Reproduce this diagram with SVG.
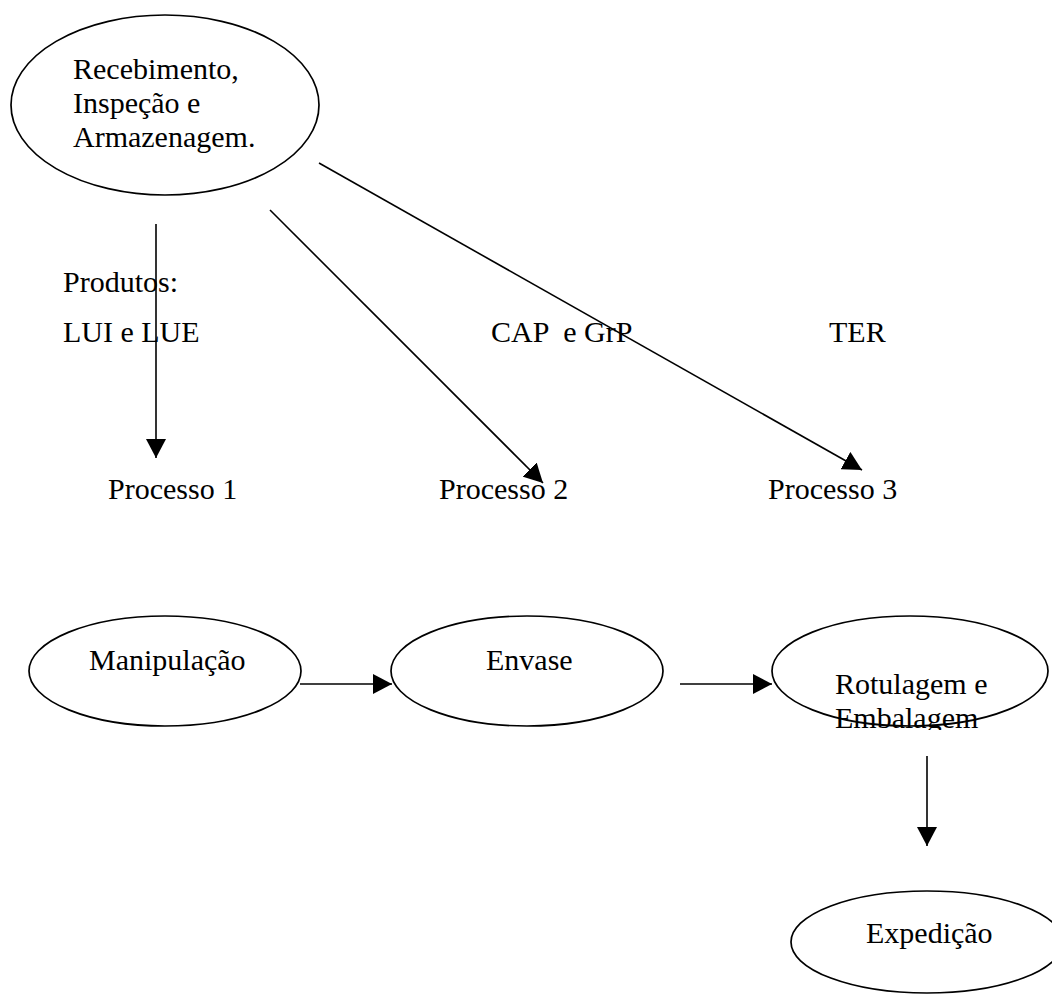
<svg xmlns="http://www.w3.org/2000/svg" width="1052" height="996" viewBox="0 0 1052 996">
  <style>
    .shape { fill: #ffffff; stroke: #000000; stroke-width: 1.7; }
    .label { font-family: "Liberation Serif", "Times New Roman", serif; font-size: 30px; fill: #000000; white-space: pre; }
    .link { stroke: #000000; stroke-width: 1.6; fill: none; marker-end: url(#head); }
  </style>
  <defs>
    <marker id="head" markerUnits="userSpaceOnUse" markerWidth="19" markerHeight="20" refX="19" refY="10" orient="auto">
      <path d="M0,0 L19,10 L0,20 z" fill="#000000"/>
    </marker>
    <clipPath id="clip-rotulagem">
      <rect x="772" y="616" width="280" height="114"/>
    </clipPath>
  </defs>

  <rect width="1052" height="996" fill="#ffffff"/>

  <g id="node-recebimento">
    <ellipse class="shape" cx="165" cy="105" rx="154" ry="90"/>
    <text class="label" x="73" y="79">Recebimento,</text>
    <text class="label" x="73" y="113">Inspeção e</text>
    <text class="label" x="73" y="147">Armazenagem.</text>
  </g>

  <g id="labels-produtos">
    <text class="label" x="63" y="292">Produtos:</text>
    <text class="label" x="63" y="342">LUI e LUE</text>
    <text class="label" x="491" y="342">CAP  e GrP</text>
    <text class="label" x="829" y="342">TER</text>
  </g>

  <g id="node-processo1">
    <text class="label" x="108" y="499">Processo 1</text>
  </g>
  <g id="node-processo2">
    <text class="label" x="439" y="499">Processo 2</text>
  </g>
  <g id="node-processo3">
    <text class="label" x="768" y="499">Processo 3</text>
  </g>

  <g id="node-manipulacao">
    <ellipse class="shape" cx="165" cy="671" rx="136" ry="55"/>
    <text class="label" x="89" y="670">Manipulação</text>
  </g>

  <g id="node-envase">
    <ellipse class="shape" cx="527" cy="671" rx="136" ry="55"/>
    <text class="label" x="486" y="670">Envase</text>
  </g>

  <g id="node-rotulagem">
    <ellipse class="shape" cx="910" cy="671" rx="138" ry="55"/>
    <g clip-path="url(#clip-rotulagem)">
      <text class="label" x="835" y="694">Rotulagem e</text>
      <text class="label" x="835" y="728">Embalagem</text>
    </g>
  </g>

  <g id="node-expedicao">
    <ellipse class="shape" cx="927" cy="942" rx="136" ry="51"/>
    <text class="label" x="866" y="943">Expedição</text>
  </g>

  <g id="connectors">
    <line class="link" x1="156" y1="224" x2="156" y2="458"/>
    <line class="link" x1="270" y1="210" x2="543" y2="483"/>
    <line class="link" x1="319" y1="163" x2="862" y2="470"/>
    <line class="link" x1="300" y1="684" x2="392" y2="684"/>
    <line class="link" x1="680" y1="684" x2="772" y2="684"/>
    <line class="link" x1="927" y1="756" x2="927" y2="846"/>
  </g>
</svg>
